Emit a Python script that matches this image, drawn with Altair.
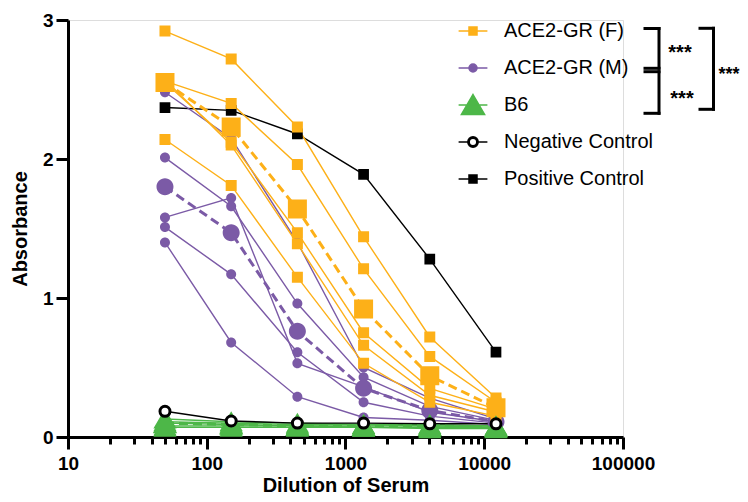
import altair as alt
import pandas as pd

# ---------------- data ----------------
dilutions = [50, 150, 450, 1350, 4050, 12150]

group_names = ["ACE2-GR (F)", "ACE2-GR (M)", "B6", "Negative Control", "Positive Control"]

f_individuals = [
    [2.92, 2.72, 2.23, 1.44, 0.72, 0.28],
    [2.56, 2.40, 1.96, 1.21, 0.58, 0.25],
    [2.55, 2.12, 1.47, 0.75, 0.35, 0.20],
    [2.57, 2.10, 1.39, 0.66, 0.30, 0.18],
    [2.14, 1.81, 1.15, 0.53, 0.25, 0.15],
]
f_mean = [2.55, 2.23, 1.64, 0.92, 0.44, 0.21]

m_individuals = [
    [2.48, 2.15, 1.40, 0.50, 0.28, 0.13],
    [2.01, 1.66, 0.96, 0.43, 0.22, 0.12],
    [1.58, 1.72, 0.53, 0.36, 0.18, 0.11],
    [1.51, 1.17, 0.61, 0.25, 0.15, 0.10],
    [1.40, 0.68, 0.29, 0.14, 0.12, 0.09],
]
m_mean = [1.80, 1.47, 0.76, 0.35, 0.19, 0.11]

b6_individuals = [
    [0.13, 0.11, 0.10, 0.09, 0.09, 0.08],
    [0.11, 0.10, 0.09, 0.09, 0.08, 0.08],
    [0.10, 0.09, 0.08, 0.08, 0.08, 0.07],
    [0.08, 0.08, 0.08, 0.07, 0.07, 0.07],
    [0.07, 0.07, 0.07, 0.07, 0.06, 0.06],
]
b6_mean = [0.10, 0.09, 0.08, 0.08, 0.08, 0.07]

neg_control = [0.185, 0.115, 0.10, 0.10, 0.095, 0.095]
pos_control = [2.37, 2.35, 2.18, 1.89, 1.28, 0.61]

x_ticks_major = [10, 100, 1000, 10000, 100000]
y_ticks = [0, 1, 2, 3]
significance = ["***", "***", "***"]

# ---------------- styles ----------------
ORANGE = "#FDB018"
PURPLE = "#7B5AA6"
GREEN = "#4DB748"
BLACK = "#000000"
FONT = "Liberation Sans"


def circle_path(r):
    k = 0.5523 * r
    return (f"M{r},0C{r},{k},{k},{r},0,{r}C{-k},{r},{-r},{k},{-r},0"
            f"C{-r},{-k},{-k},{-r},0,{-r}C{k},{-r},{r},{-k},{r},0Z")


# symbol paths (unit coords, scaled by sqrt(size)/2); the horizontal segment
# only shows where a stroke is drawn (legend), data points have no stroke
LINE = "M-3.6,0H3.6"
EXT = "M0,-2.6L0,-2.6M0,2.4L0,2.4"   # equal symbol heights in the legend
SQ = "M-1,-1H1V1H-1Z" + LINE + EXT
CI = circle_path(1) + LINE + EXT
TRI = "M0,-2.6L2.9,2.4L-2.9,2.4Z" + LINE
RING = (circle_path(1.3) + circle_path(1.12) + circle_path(0.95)
        + "M-3.6,0H-1.3M1.3,0H3.6" + EXT)

line_colors = [ORANGE, PURPLE, GREEN, BLACK, BLACK]
fill_colors = [ORANGE, PURPLE, GREEN, "#FFFFFF", BLACK]
stroke_colors = [ORANGE, PURPLE, GREEN, BLACK, BLACK]
shapes = [SQ, CI, TRI, RING, SQ]

sizes = {
    ("ACE2-GR (F)", "ind"): 121, ("ACE2-GR (F)", "mean"): 361,
    ("ACE2-GR (M)", "ind"): 100, ("ACE2-GR (M)", "mean"): 289,
    ("B6", "ind"): 64, ("B6", "mean"): 70,
    ("Negative Control", "ind"): 100, ("Positive Control", "ind"): 115,
}

# ---------------- long table ----------------
rows = []
order = 0


def add(group, kind, sid, values):
    global order
    for d, v in zip(dilutions, values):
        rows.append({"dil": d, "val": v, "grp": group, "series": group, "kind": kind,
                     "id": sid, "sz": sizes[(group, kind)], "ord": order})
        order += 1


add("Positive Control", "ind", "pc", pos_control)
for i, s in enumerate(m_individuals):
    add("ACE2-GR (M)", "ind", f"m{i}", s)
add("ACE2-GR (M)", "mean", "m_mean", m_mean)
for i, s in enumerate(f_individuals):
    add("ACE2-GR (F)", "ind", f"f{i}", s)
add("ACE2-GR (F)", "mean", "f_mean", f_mean)
for i, s in enumerate(b6_individuals):
    add("B6", "ind", f"b{i}", s)
add("B6", "mean", "b_mean", b6_mean)
add("Negative Control", "ind", "nc", neg_control)

df = pd.DataFrame(rows)

# ---------------- scales / axes ----------------
minor = [d * k for d in [10, 100, 1000, 10000] for k in range(2, 10)]
x_values = sorted(x_ticks_major + minor)
DEC = "abs(log(datum.value)/LN10 - round(log(datum.value)/LN10)) < 0.001"

x_enc = alt.X(
    "dil:Q",
    scale=alt.Scale(type="log", domain=[10, 100000], nice=False),
    axis=alt.Axis(
        values=x_values,
        labelExpr=f"{DEC} ? format(datum.value, 'd') : ''",
        tickSize={"condition": {"test": DEC, "value": 12}, "value": 7},
        tickWidth=3, tickColor=BLACK, domainWidth=3, domainColor=BLACK,
        labelFont=FONT, labelFontSize=19, labelFontWeight="bold", labelColor=BLACK,
        labelPadding=5, labelOverlap=False, labelFlush=False, grid=False,
        title="Dilution of Serum", titleFont=FONT, titleFontSize=20,
        titleFontWeight="bold", titleColor=BLACK, titlePadding=2,
    ),
)
y_enc = alt.Y(
    "val:Q",
    scale=alt.Scale(domain=[0, 3], nice=False),
    axis=alt.Axis(
        values=y_ticks, format="d", tickSize=12, tickWidth=3, tickColor=BLACK,
        domainWidth=3, domainColor=BLACK, labelFont=FONT, labelFontSize=19,
        labelFontWeight="bold", labelColor=BLACK, labelPadding=3, grid=False,
        title="Absorbance", titleFont=FONT, titleFontSize=20, titleFontWeight="bold",
        titleColor=BLACK, titlePadding=12,
    ),
)

legend = alt.Legend(
    orient="none", legendX=395, legendY=1, title=None,
    labelFont=FONT, labelFontSize=20, labelColor=BLACK, labelLimit=400,
    symbolSize=64, symbolStrokeWidth=1.5, symbolOpacity=1,
    rowPadding=10, labelOffset=21, padding=0,
)

# the line colour scale lists the groups in reverse so that it is not merged
# with (and does not switch off) the symbol legend
color_l = alt.Color("series:N", scale=alt.Scale(domain=group_names[::-1], range=line_colors[::-1]),
                    legend=None)
fill_p = alt.Fill("grp:N", scale=alt.Scale(domain=group_names, range=fill_colors), legend=legend)
stroke_p = alt.Stroke("grp:N", scale=alt.Scale(domain=group_names, range=stroke_colors), legend=legend)
shape_p = alt.Shape("grp:N", scale=alt.Scale(domain=group_names, range=shapes), legend=legend)

base = alt.Chart(df)

ind_lines = base.transform_filter("datum.kind == 'ind'").mark_line(strokeWidth=1.4).encode(
    x=x_enc, y=y_enc, color=color_l, detail="id:N", order="ord:Q")
mean_lines = base.transform_filter("datum.kind == 'mean'").mark_line(
    strokeWidth=3, strokeDash=[9, 5]).encode(
    x=x_enc, y=y_enc, color=color_l, detail="id:N", order="ord:Q")

pts = base.transform_filter("datum.grp != 'Negative Control'").mark_point(
    filled=True, opacity=1, strokeWidth=0).encode(
    x=x_enc, y=y_enc, fill=fill_p, stroke=stroke_p, shape=shape_p,
    size=alt.Size("sz:Q", scale=None))
nc_pts = base.transform_filter("datum.grp == 'Negative Control'").mark_point(
    shape="circle", filled=True, fill="#FFFFFF", stroke=BLACK, strokeWidth=3,
    opacity=1, size=100).encode(x=x_enc, y=y_enc)

# ---------------- significance brackets (annotation, pixel layout) ----------------
one = pd.DataFrame({"a": [0]})
segments = [
    (591, 591, 8.5, 48.3), (577, 591, 8.5, 8.5), (577, 591, 48.3, 48.3),
    (591, 591, 51.7, 93.3), (577, 591, 51.7, 51.7), (577, 591, 93.3, 93.3),
    (645.5, 645.5, 8.3, 89.3), (632, 645.5, 8.3, 8.3), (632, 645.5, 89.3, 89.3),
]
ann = []
for x1, x2, y1, y2 in segments:
    ann.append(alt.Chart(one).mark_rule(color=BLACK, strokeWidth=3, strokeCap="square").encode(
        x=alt.value(x1), x2=alt.value(x2), y=alt.value(y1), y2=alt.value(y2)))
star_pos = [(612, 39, 20), (614, 85, 20), (661, 60, 18)]
for (sx, sy, fs), s in zip(star_pos, significance):
    ann.append(alt.Chart(one).mark_text(text=s, font=FONT, fontSize=fs, fontWeight="bold",
                                        color=BLACK, align="center", baseline="alphabetic").encode(
        x=alt.value(sx), y=alt.value(sy)))

chart = alt.layer(ind_lines, mean_lines, pts, nc_pts, *ann).properties(
    width=555, height=417,
    padding={"left": 60, "top": 12, "right": 117, "bottom": 57},
    autosize=alt.AutoSizeParams(type="none"),
).configure_view(stroke=None).configure(background="white")

chart.save("out.html", embed_options={"renderer": "svg", "actions": False})
